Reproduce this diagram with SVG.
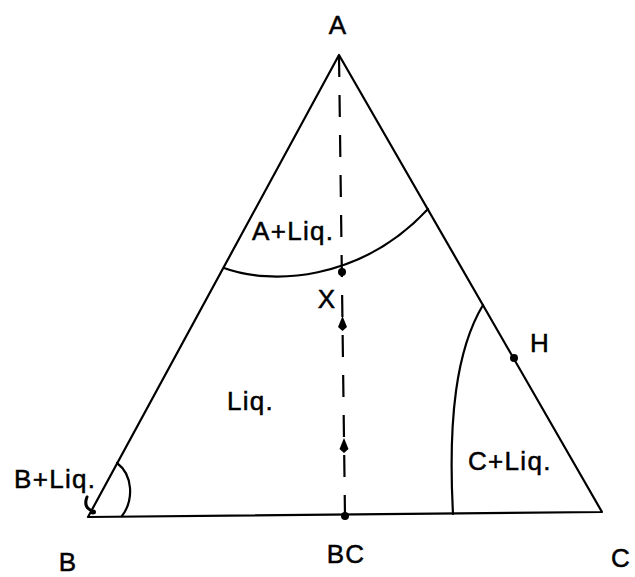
<svg xmlns="http://www.w3.org/2000/svg" width="635" height="577" viewBox="0 0 635 577">
<style>
.ln{fill:none;stroke:#000;stroke-width:2.2;stroke-linecap:round;stroke-linejoin:round}
.dash{fill:none;stroke:#000;stroke-width:2.2;stroke-dasharray:22 18}
.t{font-family:"Liberation Sans",Arial,sans-serif;font-size:26px;fill:#000;stroke:#000;stroke-width:0.5;letter-spacing:1.3px}
.m{text-anchor:middle}
</style>
<defs>
<path id="ah" d="M0,-8 L4.5,3 L0,7 L-4.5,3 Z" fill="#000"/>
</defs>
<rect width="635" height="577" fill="#fff"/>
<g id="triangle">
<path class="ln" d="M339,55 L88,517 L602,512 Z"/>
</g>
<g id="connectors">
<path class="dash" d="M339,55 L345,516"/>
<use href="#ah" x="342.5" y="324"/>
<use href="#ah" x="344" y="446"/>
<path class="ln" d="M224,268 C270,285 360,282 428,209"/>
<path class="ln" d="M483,305 C456,350 448,420 453,514"/>
<path class="ln" d="M117,463 C133,475 134,500 122,516"/>
<path class="ln" style="stroke-width:3" d="M87,497 Q83,507 92,511"/>
<ellipse cx="93" cy="512" rx="3" ry="2.5" fill="#000"/>
</g>
<g id="points">
<circle cx="342" cy="272" r="4" fill="#000"/>
<circle cx="345" cy="516" r="4" fill="#000"/>
<circle cx="514" cy="358" r="4" fill="#000"/>
</g>
<g id="labels">
<text class="t m" x="338" y="34">A</text>
<text class="t m" x="68" y="571">B</text>
<text class="t m" x="346" y="563">BC</text>
<text class="t m" x="621" y="567">C</text>
<text class="t m" x="327" y="308">X</text>
<text class="t m" x="540" y="352">H</text>
<text class="t" x="252" y="240">A+Liq.</text>
<text class="t" x="468" y="470">C+Liq.</text>
<text class="t" x="227" y="410">Liq.</text>
<text class="t" x="14" y="488">B+Liq.</text>
</g>
</svg>
